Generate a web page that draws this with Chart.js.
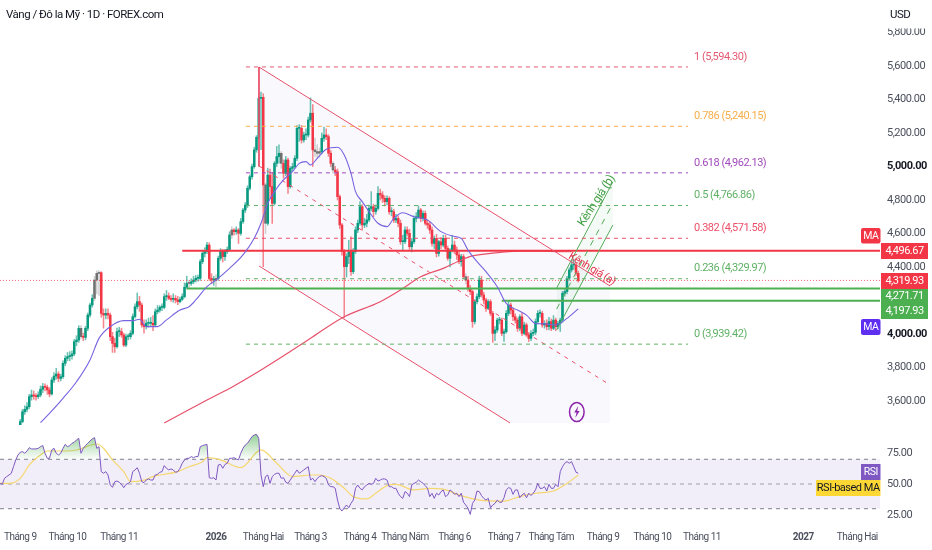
<!DOCTYPE html>
<html><head><meta charset="utf-8">
<style>html,body{margin:0;padding:0;background:#fff;overflow:hidden}canvas{display:block}</style>
<script src="https://cdn.jsdelivr.net/npm/chart.js@4/dist/chart.umd.min.js"></script>
</head><body><canvas id="c" width="932" height="550"></canvas>
<script>
// ---- candle data (bar index starts at firstBar) ----
const firstBar = 9;
const opens = [3450,3477,3536,3550,3566,3626,3636,3630,3626,3636,
3670,3686,3682,3666,3642,3725,3749,3761,3735,3745,
3825,3855,3865,3869,3881,3954,3964,4034,3984,3980,
4034,4113,4173,4213,4322,4362,4366,4123,4113,4123,
4113,3984,3944,3924,4014,4014,3994,3934,3984,3984,
4004,4104,4163,4193,4173,4054,4044,4064,4064,4064,
4054,4133,4143,4159,4159,4223,4227,4213,4207,4213,
4203,4193,4207,4223,4279,4302,4302,4312,4322,4332,
4332,4432,4482,4492,4531,4332,4322,4322,4332,4452,
4492,4462,4492,4505,4591,4621,4611,4621,4601,4671,
4740,4770,4870,4939,4999,5099,5174,5407,5413,4890,
4661,4949,4880,4780,5019,5059,5079,5019,4959,5039,
4880,4989,4999,5049,5228,5228,5158,5188,5188,5278,
5318,5099,5089,5079,5089,5168,5188,5178,5079,5019,
4979,4969,4820,4651,4492,4402,4462,4492,4372,4492,
4621,4661,4760,4651,4661,4681,4750,4760,4731,4750,
4840,4830,4810,4790,4810,4730,4730,4680,4690,4661,
4551,4551,4621,4601,4521,4551,4690,4700,4740,4690,
4720,4661,4651,4621,4541,4571,4481,4551,4531,4571,
4511,4452,4501,4531,4501,4472,4432,4462,4342,4322,
4272,4253,4074,4193,4223,4322,4233,4203,4153,4193,
4123,4004,4024,4083,4083,4004,4014,4123,4173,4143,
4103,4083,4034,4103,4004,4054,3994,3974,4004,4010,
4074,4123,4123,4054,4063,4044,4074,4034,4083,4044,
4063,4083,4243,4253,4332,4382,4412,4412,4362];
const highs = [3490,3550,3572,3590,3640,3665,3660,3645,3655,3690,
3705,3702,3695,3680,3740,3770,3795,3775,3760,3840,
3870,3890,3895,3900,3968,3990,4050,4050,4005,4046,
4125,4185,4235,4345,4378,4378,4372,4150,4150,4150,
4125,4010,3975,4035,4040,4035,4005,4000,4000,4020,
4120,4180,4245,4225,4185,4085,4085,4095,4100,4110,
4150,4170,4170,4180,4240,4260,4245,4230,4240,4230,
4225,4220,4240,4305,4345,4320,4330,4345,4350,4352,
4445,4500,4515,4548,4545,4360,4345,4355,4465,4510,
4505,4505,4520,4610,4640,4630,4640,4630,4690,4750,
4785,4885,4950,5015,5115,5185,5420,5445,5435,4900,
4990,4985,4965,5030,5120,5130,5090,5040,5060,5050,
5000,5020,5065,5245,5250,5245,5205,5225,5295,5410,
5370,5170,5130,5110,5200,5235,5225,5190,5095,5030,
5000,4985,4830,4660,4505,4480,4560,4580,4510,4640,
4680,4790,4772,4690,4715,4770,4850,4775,4770,4880,
4865,4850,4825,4825,4820,4755,4745,4715,4705,4680,
4590,4640,4640,4625,4570,4705,4725,4765,4750,4735,
4735,4680,4670,4640,4585,4595,4560,4575,4590,4590,
4525,4510,4590,4555,4520,4490,4475,4475,4360,4345,
4290,4262,4205,4240,4345,4345,4250,4215,4205,4205,
4135,4045,4095,4100,4095,4030,4140,4195,4185,4155,
4120,4095,4115,4125,4070,4065,4010,4020,4030,4090,
4140,4145,4135,4080,4085,4100,4090,4110,4095,4075,
4095,4255,4265,4345,4395,4440,4445,4425,4375];
const lows = [3440,3470,3520,3535,3555,3605,3610,3605,3615,3625,
3650,3660,3640,3625,3635,3710,3730,3715,3720,3735,
3810,3840,3840,3850,3870,3930,3950,3970,3960,3965,
4020,4100,4160,4200,4240,4230,4100,4035,4090,4090,
3960,3890,3890,3915,3985,3980,3925,3925,3965,3970,
3995,4095,4150,4135,4040,4005,4030,4040,4050,4020,
4045,4120,4130,4140,4150,4200,4205,4195,4190,4185,
4175,4185,4200,4215,4270,4270,4290,4300,4310,4315,
4320,4420,4460,4480,4320,4300,4290,4280,4320,4440,
4430,4440,4480,4495,4570,4590,4595,4540,4590,4660,
4725,4755,4860,4925,4990,5085,5165,5100,4402,4600,
4650,4810,4660,4770,5000,5020,4990,4930,4945,4840,
4870,4975,4990,5035,5150,5140,5145,5160,5175,5265,
5000,5060,5050,5055,5075,5150,5160,5060,5000,4960,
4945,4800,4630,4470,4096,4340,4420,4350,4360,4480,
4605,4650,4620,4635,4640,4670,4735,4700,4715,4740,
4800,4785,4765,4770,4715,4705,4665,4665,4640,4535,
4500,4540,4585,4505,4490,4540,4670,4690,4670,4675,
4650,4630,4600,4525,4510,4460,4465,4510,4520,4495,
4440,4400,4490,4480,4445,4420,4405,4330,4300,4255,
4235,4040,4060,4180,4210,4220,4180,4135,4145,4110,
3950,3960,4010,4060,3990,3955,4005,4110,4120,4080,
4065,4015,4020,3990,3995,3985,3955,3960,3990,3995,
4060,4100,4040,4035,4025,4025,4020,4025,4020,4030,
4015,4070,4225,4240,4320,4370,4385,4350,4310];
const closes = [3477,3536,3550,3566,3626,3636,3630,3626,3636,3670,
3686,3682,3666,3642,3725,3749,3761,3735,3745,3825,
3855,3865,3869,3881,3954,3964,4034,3984,3980,4034,
4113,4173,4213,4322,4362,4366,4123,4113,4123,4113,
3984,3944,3924,4014,4014,3994,3934,3984,3984,4004,
4104,4163,4193,4173,4054,4044,4064,4064,4064,4054,
4133,4143,4159,4159,4223,4227,4213,4207,4213,4203,
4193,4207,4223,4279,4302,4302,4312,4322,4332,4332,
4432,4482,4492,4531,4332,4322,4322,4332,4452,4492,
4462,4492,4505,4591,4621,4611,4621,4601,4671,4740,
4770,4870,4939,4999,5099,5174,5407,5413,4890,4661,
4949,4880,4780,5019,5059,5079,5019,4959,5039,4880,
4989,4999,5049,5228,5228,5158,5188,5188,5278,5318,
5099,5089,5079,5089,5168,5188,5178,5079,5019,4979,
4969,4820,4651,4492,4402,4462,4492,4372,4492,4621,
4661,4760,4651,4661,4681,4750,4760,4731,4750,4840,
4830,4810,4790,4810,4730,4730,4680,4690,4661,4551,
4551,4621,4601,4521,4551,4690,4700,4740,4690,4720,
4661,4651,4621,4541,4571,4481,4551,4531,4571,4511,
4452,4501,4531,4501,4472,4432,4462,4342,4322,4272,
4253,4074,4193,4223,4322,4233,4203,4153,4193,4123,
4004,4024,4083,4083,4004,4014,4123,4173,4143,4103,
4083,4034,4103,4004,4054,3994,3974,4004,4010,4074,
4123,4123,4054,4063,4044,4074,4034,4083,4044,4063,
4083,4243,4253,4332,4382,4412,4412,4362,4319.93];
const ghostBars = [36,42,43,44,84,96,103,118,125,140,141,142,148,207];

// ---- moving averages on price ----
const ma50X = [18,22,28,34,40,44,49,55,59,62,65,70,74,80,84,87,92,96,102,108,113,116,119,123,126,130,133,136,138,141,145,150,153,156,158,161,164,168,172,175,179,184,190,196,201,205,208,212,216,221,225,230,234,238,243,247,252,257];
const ma50Y = [3471,3526,3616,3715,3845,3974,4044,4080,4080,4088,4044,4044,4084,4143,4163,4203,4283,4322,4392,4472,4571,4661,4780,4870,4920,4969,5019,5029,5009,5049,5103,5115,5069,4959,4850,4790,4731,4661,4641,4690,4724,4700,4680,4611,4585,4571,4501,4432,4372,4282,4183,4143,4113,4063,4060,4054,4093,4150];
const ma200X = [73,92,104,116,130,138,152,169,178,187,197,205,210,218,230,241,249,254];
const ma200Y = [3469,3606,3690,3785,3904,3974,4096,4193,4263,4342,4392,4442,4466,4481,4495,4495,4491,4491];

// ---- fibonacci levels ----
const fibValues = [5594.30,5240.15,4962.13,4766.86,4571.58,4329.97,3939.42];
const fibNames = ["1 (5,594.30)","0.786 (5,240.15)","0.618 (4,962.13)","0.5 (4,766.86)","0.382 (4,571.58)","0.236 (4,329.97)","0 (3,939.42)"];
const fibColors = ["#e35a72","#f7ae4c","#a24bbb","#5fb165","#ec4f68","#5fb165","#5fb165"];
const fibStartBar = 109.3, fibEndBar = 305.8;

// ---- channels ----
const chanA = {x:[115.1,271.1], top:[5594,4287], mid:[5003,3696]};
const chanALowX = [115.1,226.7], chanALowY = [4406,3469];
const chanBX = [247.4,272.4], chanBUp=[4275,4909], chanBMid=[4149,4780], chanBLow=[4024,4651];

// ---- horizontal levels and tags ----
const lastPrice = 4319.93, levelRed = 4496.67, levelGreen1 = 4271.71, levelGreen2 = 4197.93;
const xMax = 391.11;

// ---- RSI ----
const rsiValues = [50.5,49.7,54.6,56,57.3,58.6,64,69.5,73.5,75.7,76.2,74.9,76.7,79.4,78.4,78.4,78.4,78.9,80.2,81.1,
74.9,70.8,70.8,77.6,78.9,74.9,73.5,74.9,78.9,82.1,80.2,81.1,83,83.8,85.7,87,74.9,78.9,81.1,83,
84.8,86.5,87.5,78.9,80.2,60,58.7,60,57.3,49.2,47.3,51.9,52.4,51.4,49.7,47,49.7,50.5,51.9,60,
61.4,63.2,58.7,51.9,51.1,53.2,54.1,53.2,53.2,57.3,57.8,59.5,60,64.9,62.7,61.4,62.2,61.4,59.5,60,
62.7,66.8,69.5,70.8,70.8,72.2,71.3,72.2,72.2,80.2,81.1,81.6,82.1,55.1,54.6,55.1,53.2,65.4,65.9,62.7,
65.9,66.8,70.8,70.8,71.3,70.3,69.5,74.9,78.9,81.6,83,85.7,88.4,89.7,90.2,87,57.3,47.8,56,57.3,
50.5,56,57.8,58.7,58.7,54.6,55.1,51.4,50.5,53.2,56,58.7,61.4,58.7,60,61.4,62.7,64,53.2,54.6,
51.9,54.6,56,56.8,56,54.6,49.2,47.8,47.8,46.5,37,30.3,28.1,30.8,33,30.8,34.3,37,46.5,49.2,
46.5,45.2,47.8,49.2,50.5,49.7,50.5,54.6,52.4,53.2,54.1,54.1,53.2,47.8,47.8,46.5,46.5,42.5,39.8,38.4,
43.8,42.5,39.8,49.2,50.5,51.4,53.2,51.9,50.5,48.7,46.5,39.8,42.5,38.4,42.5,41.1,43.8,45.2,39.8,41.1,
45.2,43.8,41.6,42.5,39.8,42.5,35.2,33,30.3,25.4,34.3,37,44.3,43.8,40.6,38.4,37,38.4,30.8,33,
34.3,37,35.2,35.2,38.9,45.2,47,46.5,41.6,45.2,45.2,38.9,41.1,42.5,38.9,42.5,40.6,42.5,45.2,50.5,
46.5,46.5,47.8,44.3,49.7,46.5,46.5,49.7,47.8,60,64,66.8,68.1,66.8,68.1,64,59.5,58.7];
const rsiMaX = [0,4,9,13,18,21,27,34,43,46,50,55,58,64,68,71,79,84,90,92,98,107,116,123,130,138,142,147,153,157,163,167,172,176,184,191,197,204,213,224,231,238,246,252,257];
const rsiMaY = [50.5,50.5,54.6,65.4,73.5,76.7,76.7,77.5,82.4,78.9,69.5,60,51.9,53.2,56,57.3,60,64,68.1,71.3,69.5,63.2,77.6,66.8,56,57.3,57.3,54.6,46.5,39.8,37.9,42.5,48.7,49.7,45.2,46.5,45.9,41.1,37,36.2,39.8,42.5,44.3,50.5,57.3];
const rsiBands = [70,50,30];

// ---- tick labels ----
const priceTicks = [3600,3800,4000,4400,4600,4800,5000,5200,5400,5600,5800];
const boldPrices = [4000,5000];
const rsiTicks = [25,50,75];
const monthBars = [9,30,53,96,117,138,160,180,202,224,245,268,290,312,357,381];
const monthLabels = ["Tháng 9","Tháng 10","Tháng 11","2026","Tháng Hai","Tháng 3","Tháng 4","Tháng Năm","Tháng 6","Tháng 7","Tháng Tám","Tháng 9","Tháng 10","Tháng 11","2027","Tháng Hai"];
const boldMonths = ["2026","2027"];

const FONT = "Roboto, sans-serif";
const TIGHT = "-0.5px";
const UP="#089981", DOWN="#f23645", GHOST="#707070";
const pts = (xs,ys)=>xs.map((x,i)=>({x,y:ys[i]}));
const barsX = opens.map((_,i)=>firstBar+i);
const bodyColor = opens.map((o,i)=>ghostBars.includes(firstBar+i)?GHOST:(closes[i]>=o?UP:DOWN));
const wickColor = opens.map((o,i)=>ghostBars.includes(firstBar+i)?"#cfcfcf":(closes[i]>=o?"rgba(8,153,129,.6)":"rgba(242,54,69,.6)"));

const line=(data,color,width,extra={})=>Object.assign({type:'line',data,borderColor:color,borderWidth:width,pointRadius:0,fill:false,tension:0,xAxisID:'x',yAxisID:'y',order:1},extra);

const ctxMain=document.getElementById('c').getContext('2d');
const rsiGrad=ctxMain.createLinearGradient(0,434,0,459);
rsiGrad.addColorStop(0,"rgba(76,175,80,.6)");
rsiGrad.addColorStop(1,"rgba(76,175,80,.02)");

const datasets=[];
// channel A fill + boundary
datasets.push(line(pts(chanA.x,chanA.top),"rgba(0,0,0,0)",0,{fill:'+1',backgroundColor:"rgba(125,105,205,.045)",order:30}));
datasets.push(line(pts([chanALowX[0],chanALowX[1],chanA.x[1]],[chanALowY[0],chanALowY[1],chanALowY[1]]),"rgba(0,0,0,0)",0,{order:31}));
// channel B fill + boundary
datasets.push(line(pts(chanBX,chanBUp),"rgba(0,0,0,0)",0,{fill:'+1',backgroundColor:"rgba(76,175,80,.06)",order:29}));
datasets.push(line(pts(chanBX,chanBLow),"rgba(0,0,0,0)",0,{order:29}));
// candles
datasets.push({type:'bar',grouped:false,data:barsX.map((x,i)=>({x,y:[opens[i],closes[i]]})),backgroundColor:bodyColor,barThickness:1.9,minBarLength:1,xAxisID:'x',yAxisID:'y',order:10});
datasets.push({type:'bar',grouped:false,data:barsX.map((x,i)=>({x,y:[lows[i],highs[i]]})),backgroundColor:wickColor,barThickness:0.9,xAxisID:'x',yAxisID:'y',order:11});
// fib
fibValues.forEach((v,i)=>datasets.push(line(pts([fibStartBar,fibEndBar],[v,v]),fibColors[i],1,{borderDash:[4,4]})));
// channel A lines
datasets.push(line(pts(chanA.x,chanA.top),"#e8506a",1));
datasets.push(line(pts(chanALowX,chanALowY),"#e8506a",1));
datasets.push(line(pts(chanA.x,chanA.mid),"#e8506a",1,{borderDash:[4,5]}));
datasets.push(line(pts([115.1,115.1],[5594,5000]),"#e8506a",1));
// channel B lines
datasets.push(line(pts(chanBX,chanBUp),"#55ab5b",1));
datasets.push(line(pts(chanBX,chanBLow),"#55ab5b",1));
datasets.push(line(pts(chanBX,chanBMid),"#55ab5b",1,{borderDash:[6,6]}));
// horizontals
datasets.push(line(pts([81,xMax],[levelRed,levelRed]),"#f23645",2));
datasets.push(line(pts([83,xMax],[levelGreen1,levelGreen1]),"#4caf50",2));
datasets.push(line(pts([223,xMax],[levelGreen2,levelGreen2]),"#4caf50",2));
datasets.push(line(pts([0,xMax],[lastPrice,lastPrice]),"rgba(242,54,69,.75)",1,{borderDash:[1,2]}));
// MAs
datasets.push(line(pts(ma50X,ma50Y),"#7763e0",1.1,{cubicInterpolationMode:'monotone',order:0}));
datasets.push(line(pts(ma200X,ma200Y),"#e8506a",1.2,{cubicInterpolationMode:'monotone'}));
// RSI
datasets.push(line(rsiValues.map((v,i)=>({x:i,y:v})),"#7e57c2",1,{yAxisID:'yRsi',order:0,fill:{target:{value:70},above:rsiGrad,below:"rgba(0,0,0,0)"}}));
datasets.push(line(pts(rsiMaX,rsiMaY),"#f5d76e",1.2,{yAxisID:'yRsi',order:0,cubicInterpolationMode:'monotone'}));
datasets.push(line(pts([0,xMax],[rsiBands[0],rsiBands[0]]),"#80838f",1,{yAxisID:'yRsi',borderDash:[4,4],fill:'+1',backgroundColor:"rgba(126,87,194,.10)",order:40}));
datasets.push(line(pts([0,xMax],[rsiBands[2],rsiBands[2]]),"#80838f",1,{yAxisID:'yRsi',borderDash:[4,4],order:41}));
datasets.push(line(pts([0,xMax],[rsiBands[1],rsiBands[1]]),"#a0a2ab",1,{yAxisID:'yRsi',borderDash:[4,4],order:39}));

function tag(c,x,y,w,h,bg,fg,t,r=0,fs=11){c.fillStyle=bg;c.beginPath();c.roundRect(x,y,w,h,r);c.fill();c.fillStyle=fg;c.font=fs+"px "+FONT;c.textAlign='center';c.textBaseline='middle';c.fillText(t,x+w/2,y+h/2+.5);}

const overlay={id:'overlay',
 beforeUpdate(ch){ch.ctx.letterSpacing=TIGHT;},
 beforeDraw(ch){ch.ctx.letterSpacing=TIGHT;},
 afterDraw(ch){
 const c=ch.ctx,y=ch.scales.y,x=ch.scales.x;
 c.save();
 // header
 c.fillStyle="#fff";c.fillRect(880,0,52,28.5);
 c.fillStyle="#131722";c.font="11.5px "+FONT;c.textAlign='left';c.textBaseline='middle';
 c.fillText("Vàng / Đô la Mỹ · 1D · FOREX.com",6,15.5);
 c.fillText("USD",890,15.5);
 // fib labels
 c.font="11px "+FONT;
 fibValues.forEach((v,i)=>{c.fillStyle=fibColors[i];c.fillText(fibNames[i],x.getPixelForValue(fibEndBar)+6,y.getPixelForValue(v)-10);});
 // channel labels
 const rot=(t,bx,p,a,col,fs)=>{c.save();c.translate(x.getPixelForValue(bx),y.getPixelForValue(p));c.rotate(a*Math.PI/180);c.fillStyle=col;c.font=fs+"px "+FONT;c.textAlign='center';c.textBaseline='middle';c.fillText(t,0,0);c.restore();};
 rot("Kênh giá (a)",263,4387,31,"#e0364f",11);
 rot("Kênh giá (b)",265.2,4794,-57,"#43a047",12);
 // price tags
 const lx=881,lw=47;
 tag(c,lx-20,228,19.5,15.5,"#f23645","#fff","MA",2,10.5);
 tag(c,lx,243,lw,16,"#f23645","#fff","4,496.67");
 tag(c,lx,273,lw,16,"#f23645","#fff","4,319.93");
 tag(c,lx,289,lw,30,"#4caf50","#fff","",0);
 c.fillStyle="#fff";c.font="11px "+FONT;c.textAlign='center';
 c.fillText("4,271.71",lx+lw/2,296.5);c.fillText("4,197.93",lx+lw/2,311.5);
 tag(c,lx-20,319,19.5,16,"#5e2ff0","#fff","MA",2,10.5);
 tag(c,lx-20,464,19.5,16,"#7e57c2","#fff","RSI",0,10.5);
 tag(c,816,480,64.5,16,"#fdd835","#131722","RSI-based MA",0,11);
 // alert icon
 c.strokeStyle="#8e24aa";c.lineWidth=1.5;c.beginPath();c.ellipse(576.8,412,7.3,9.6,0,0,7);c.stroke();
 c.fillStyle="#8e24aa";c.beginPath();c.moveTo(578.3,406);c.lineTo(574.2,412.6);c.lineTo(576.6,412.6);c.lineTo(575.3,418);c.lineTo(579.6,411);c.lineTo(577.1,411);c.closePath();c.fill();
 c.restore();
}};

const tickVal = ctx => ctx.tick ? ctx.tick.value : undefined;
const noPad = s => { s.paddingTop=0; s.paddingBottom=0; s.paddingLeft=0; s.paddingRight=0; };

new Chart(ctxMain,{
 type:'bar',
 data:{datasets},
 options:{
  responsive:false,animation:false,events:[],
  layout:{padding:0},
  plugins:{legend:{display:false},tooltip:{enabled:false}},
  scales:{
   x:{type:'linear',position:'bottom',min:0,max:xMax,offset:false,grid:{display:false,drawTicks:false},border:{display:false},
    afterFit(s){s.height=25;noPad(s);},
    afterBuildTicks(s){s.ticks=monthBars.map(v=>({value:v}));},
    ticks:{autoSkip:false,maxRotation:0,padding:6,color:"#4a4f5c",
     callback:v=>monthLabels[monthBars.indexOf(v)],
     font:ctx=>({family:FONT,size:10,weight:boldMonths.includes(monthLabels[monthBars.indexOf(tickVal(ctx))])?'700':'400'})}},
   y:{type:'linear',position:'right',stack:'p',stackWeight:425,min:3456.7,max:5994.03,grid:{display:false,drawTicks:false},border:{display:false},
    afterFit(s){s.width=52;noPad(s);},
    afterBuildTicks(s){s.ticks=priceTicks.map(v=>({value:v}));},
    ticks:{autoSkip:false,padding:7,color:ctx=>boldPrices.includes(tickVal(ctx))?"#131722":"#4a4f5c",
     callback:v=>v.toLocaleString('en-US',{minimumFractionDigits:2,maximumFractionDigits:2}),
     font:ctx=>({family:FONT,size:11,weight:boldPrices.includes(tickVal(ctx))?'700':'400'})}},
   yRsi:{type:'linear',position:'right',stack:'p',stackWeight:100,min:16.8,max:97.77,grid:{display:false,drawTicks:false},border:{display:false},
    afterFit(s){s.width=52;noPad(s);},
    afterBuildTicks(s){s.ticks=rsiTicks.map(v=>({value:v}));},
    ticks:{autoSkip:false,padding:7,color:"#4a4f5c",callback:v=>v.toFixed(2),font:{family:FONT,size:11}}}
  }
 },
 plugins:[overlay]
});
</script></body></html>
